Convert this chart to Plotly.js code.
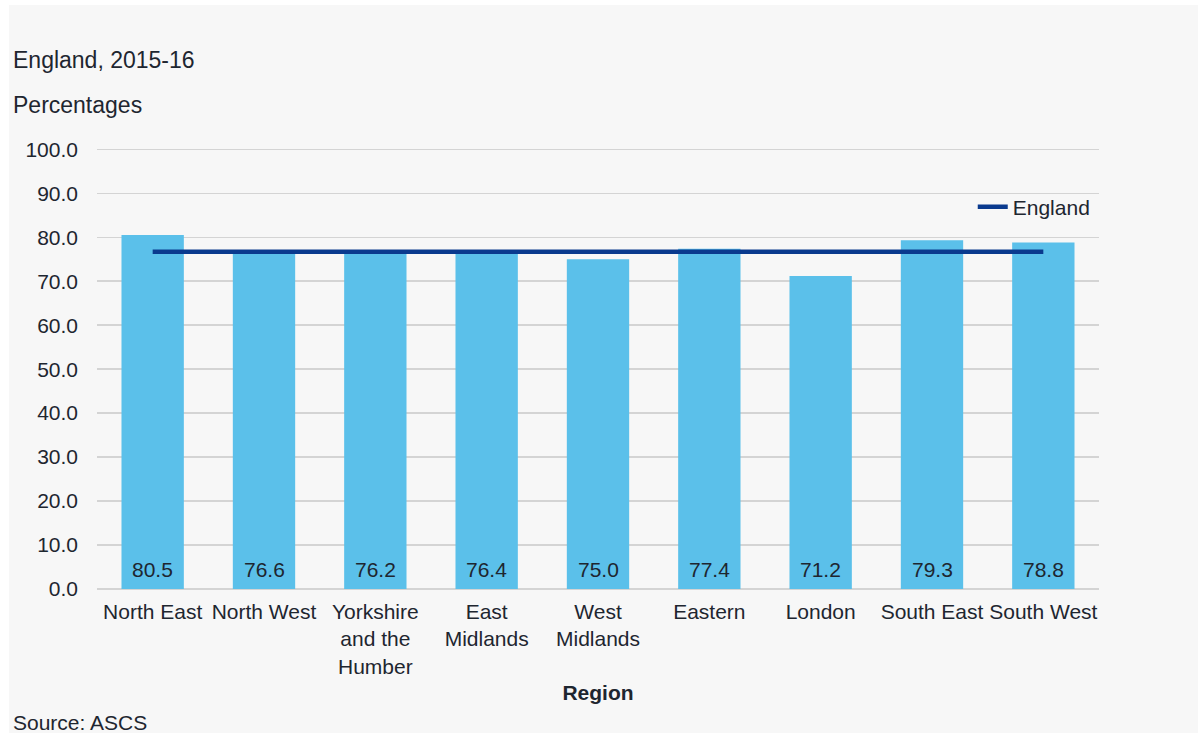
<!DOCTYPE html>
<html>
<head>
<meta charset="utf-8">
<script src="https://cdn.plot.ly/plotly-3.0.1.min.js"></script>
<style>
  html, body { margin: 0; padding: 0; background: #ffffff; }
  #chart { position: absolute; left: 9px; top: 5px; width: 1189px; height: 728px; }
</style>
</head>
<body>
<div id="chart"></div>
<script>
const regions = ["North East", "North West", "Yorkshire<br>and the<br>Humber", "East<br>Midlands", "West<br>Midlands", "Eastern", "London", "South East", "South West"];
const regionValues = [80.5, 76.6, 76.2, 76.4, 75.0, 77.4, 71.2, 79.3, 78.8];
const englandValues = [76.7, 76.7, 76.7, 76.7, 76.7, 76.7, 76.7, 76.7, 76.7];
const yTicks = [0, 10, 20, 30, 40, 50, 60, 70, 80, 90, 100];

const fam = "Liberation Sans, Arial, sans-serif";
const txtColor = "#1e2630";
const font = { family: fam, size: 21, color: txtColor };
const headFont = { family: fam, size: 23, color: txtColor };

const bars = {
  type: "bar",
  x: regions,
  y: regionValues,
  marker: { color: "#5bc0ea" },
  showlegend: false,
  hoverinfo: "x+y"
};

const england = {
  type: "scatter",
  mode: "lines",
  x: regions,
  y: englandValues,
  name: "England",
  line: { color: "#0a3a8e", width: 4.5 },
  showlegend: true
};

const valueLabels = regions.map((r, i) => ({
  x: r, y: 0, xref: "x", yref: "y",
  text: regionValues[i].toFixed(1),
  showarrow: false, yanchor: "middle", yshift: 20,
  font: font
}));

const layout = {
  width: 1189,
  height: 728,
  paper_bgcolor: "#f7f7f7",
  plot_bgcolor: "#f7f7f7",
  font: font,
  margin: { l: 88, r: 99, t: 143, b: 144 },
  bargap: 0.44,
  xaxis: {
    type: "category",
    tickfont: font,
    showgrid: false,
    showline: false,
    ticks: "",
    tickangle: 0,
    ticklabelstandoff: 8,
    title: { text: "<b>Region</b>", font: font, standoff: 8 }
  },
  yaxis: {
    range: [0, 100.3],
    tickvals: yTicks,
    ticktext: yTicks.map(v => v.toFixed(1)),
    tickfont: font,
    showgrid: true,
    gridcolor: "#d4d4d4",
    gridwidth: 1.5,
    zeroline: true,
    zerolinecolor: "#d4d4d4",
    zerolinewidth: 1.5,
    showline: false,
    ticks: "",
    ticklabelstandoff: 18
  },
  legend: {
    x: 0.874, xanchor: "left",
    y: 0.866, yanchor: "middle",
    bgcolor: "rgba(0,0,0,0)",
    font: font
  },
  annotations: valueLabels.concat([
    { text: "England, 2015-16", xref: "paper", yref: "paper", x: -0.0858, y: 1.2, xanchor: "left", yanchor: "middle", showarrow: false, font: headFont },
    { text: "Percentages", xref: "paper", yref: "paper", x: -0.0858, y: 1.0977, xanchor: "left", yanchor: "middle", showarrow: false, font: headFont },
    { text: "Source: ASCS", xref: "paper", yref: "paper", x: -0.0858, y: -0.302, xanchor: "left", yanchor: "middle", showarrow: false, font: font }
  ])
};

Plotly.newPlot("chart", [bars, england], layout, { displayModeBar: false, staticPlot: true });
</script>
</body>
</html>
